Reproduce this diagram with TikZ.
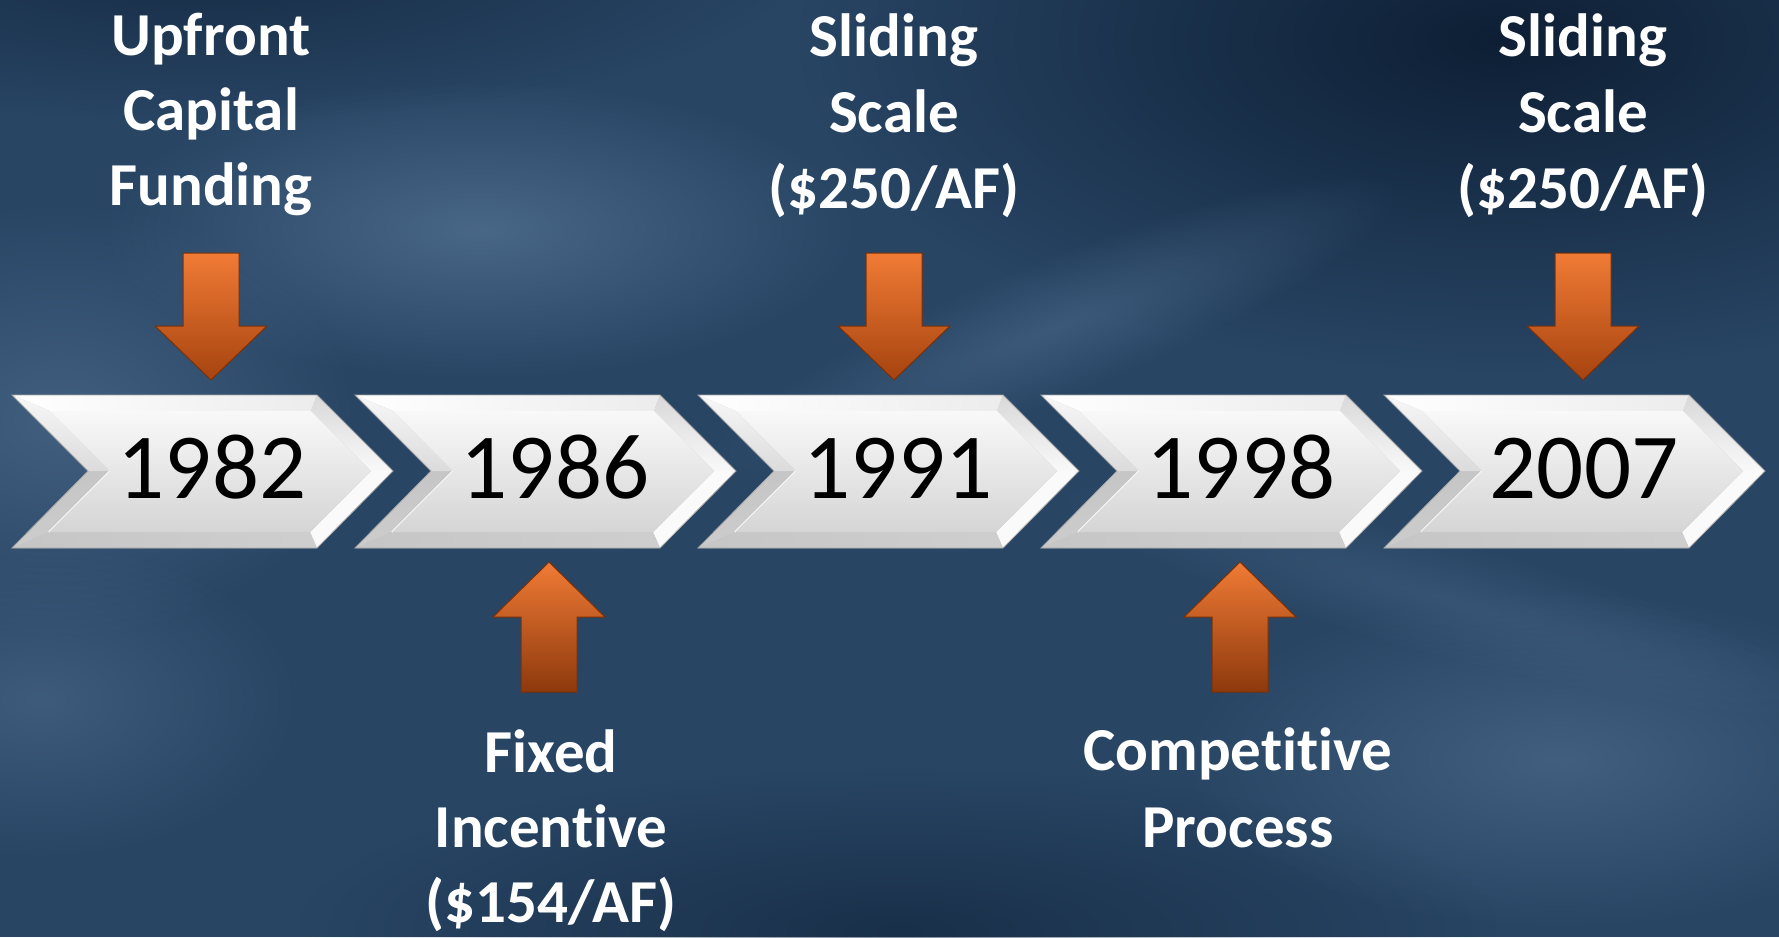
\documentclass[tikz,border=0pt]{standalone}
\usepackage{fontspec}
\setmainfont{Carlito}[Ligatures=NoCommon]
\usetikzlibrary{fadings}
\tikzfading[name=glow, inner color=transparent!0, outer color=transparent!100]
\definecolor{bgbase}{HTML}{284564}
\definecolor{bglight}{HTML}{4C6A8A}
\definecolor{bgdark}{HTML}{0B1B30}
\definecolor{orTop}{HTML}{F07B35}
\definecolor{orBot}{HTML}{A6430F}
\definecolor{orEdge}{HTML}{7A3008}
\tikzset{
  lbl/.style={text=white, font=\bfseries\fontsize{61}{75}\selectfont, anchor=base, inner sep=0pt},
  yeartext/.style={text=black, font=\fontsize{93}{100}\selectfont, anchor=base, inner sep=0pt},
  orarrow/.style={top color=orTop, bottom color=orBot, draw=orEdge, line width=1pt, line join=miter},
  orarrowup/.style={top color=orTop, bottom color=orBot!85!black, draw=orEdge, line width=1pt, line join=miter},
}
\newcommand\mychev[3]{%
 \begin{scope}[shift={(#1,0)}]
  \fill[gray!55] (0,395) -- (305,395) -- (381,471) -- (305,548) -- (0,548) -- (76,471) -- cycle;
  \shade[left color=white, right color=gray!15] (0,395) -- (305,395) -- (299,411) -- (38,411) -- cycle;
  \shade[top color=gray!30, bottom color=gray!5] (305,395) -- (381,471) -- (359,471) -- (299,411) -- cycle;
  \fill[gray!4] (381,471) -- (305,548) -- (298,532) -- (359,471) -- cycle;
  \shade[left color=gray!45, right color=gray!38] (305,548) -- (0,548) -- (37,532) -- (298,532) -- cycle;
  \shade[top color=gray!45, bottom color=gray!40] (0,548) -- (76,471) -- (98,471) -- (37,532) -- cycle;
  \shade[top color=gray!6, bottom color=gray!28] (76,471) -- (0,395) -- (38,411) -- (98,471) -- cycle;
  \draw[white, line width=1.5pt] (98,471) -- (37,532);
  \shade[top color=gray!5, bottom color=gray!33] (38,411) -- (299,411) -- (359,471) -- (298,532) -- (37,532) -- (98,471) -- cycle;
  \draw[gray!70, line width=0.8pt] (0,395) -- (305,395) -- (381,471) -- (305,548) -- (0,548) -- (76,471) -- cycle;
  \node[yeartext] (#2) at (200,498) {#3};
 \end{scope}}
\newcommand\mydown[1]{%
  \shade[orarrow] (#1-28,253) -- (#1+28,253) -- (#1+28,326) -- (#1+56,326) -- (#1,380) -- (#1-56,326) -- (#1-28,326) -- cycle;}
\newcommand\myup[1]{%
  \shade[orarrowup] (#1,562) -- (#1+56,617) -- (#1+28,617) -- (#1+28,692) -- (#1-28,692) -- (#1-28,617) -- (#1-56,617) -- cycle;}
\begin{document}
\begin{tikzpicture}[x=1pt,y=-1pt]
\useasboundingbox (0,0) rectangle (1779,937);
% background
\fill[bgbase] (0,0) rectangle (1779,937);
\fill[bgdark, opacity=0.9, path fading=glow] (1500,40) ellipse [x radius=700, y radius=330];
\fill[bgdark, opacity=0.6, path fading=glow] (200,-40) ellipse [x radius=600, y radius=160];
\fill[bgdark, opacity=0.5, path fading=glow] (900,930) ellipse [x radius=600, y radius=160];
\fill[bglight, opacity=0.9, path fading=glow] (480,230) ellipse [x radius=380, y radius=150];
\fill[bglight, opacity=0.7, path fading=glow] (60,420) ellipse [x radius=300, y radius=220];
\fill[bglight, opacity=0.6, path fading=glow] (40,700) ellipse [x radius=260, y radius=160];
\fill[bglight, opacity=0.7, path fading=glow] (1560,760) ellipse [x radius=380, y radius=170];
\begin{scope}[transform canvas={shift={(1050pt,-330pt)}, rotate=22}]
\fill[bglight, opacity=0.55, path fading=glow] (0,0) ellipse [x radius=380, y radius=70];
\end{scope}
\begin{scope}[transform canvas={shift={(1450pt,-600pt)}, rotate=-15}]
\fill[bglight, opacity=0.4, path fading=glow] (0,0) ellipse [x radius=420, y radius=60];
\end{scope}
% chevrons
\mychev{12}{y1982}{1982}
\mychev{355}{y1986}{1986}
\mychev{698}{y1991}{1991}
\mychev{1041}{y1998}{1998}
\mychev{1384}{y2007}{2007}
% arrows
\mydown{211}
\mydown{894}
\mydown{1583}
\myup{549}
\myup{1240}
% labels top
\node[lbl] (a1) at (211,55) {Upfront};
\node[lbl] (a2) at (211,130) {Capital};
\node[lbl] (a3) at (211,205) {Funding};
\node[lbl] (b1) at (894,56) {Sliding};
\node[lbl] (b2) at (894,132) {Scale};
\node[lbl] (b3) at (894,208) {(\$250/AF)};
\node[lbl] (c1) at (1583,56) {Sliding};
\node[lbl] (c2) at (1583,132) {Scale};
\node[lbl] (c3) at (1583,208) {(\$250/AF)};
% labels bottom
\node[lbl] (d1) at (551,772) {Fixed};
\node[lbl] (d2) at (551,847) {Incentive};
\node[lbl] (d3) at (551,922) {(\$154/AF)};
\node[lbl] (e1) at (1238,770) {Competitive};
\node[lbl] (e2) at (1238,847) {Process};
\end{tikzpicture}
\end{document}
